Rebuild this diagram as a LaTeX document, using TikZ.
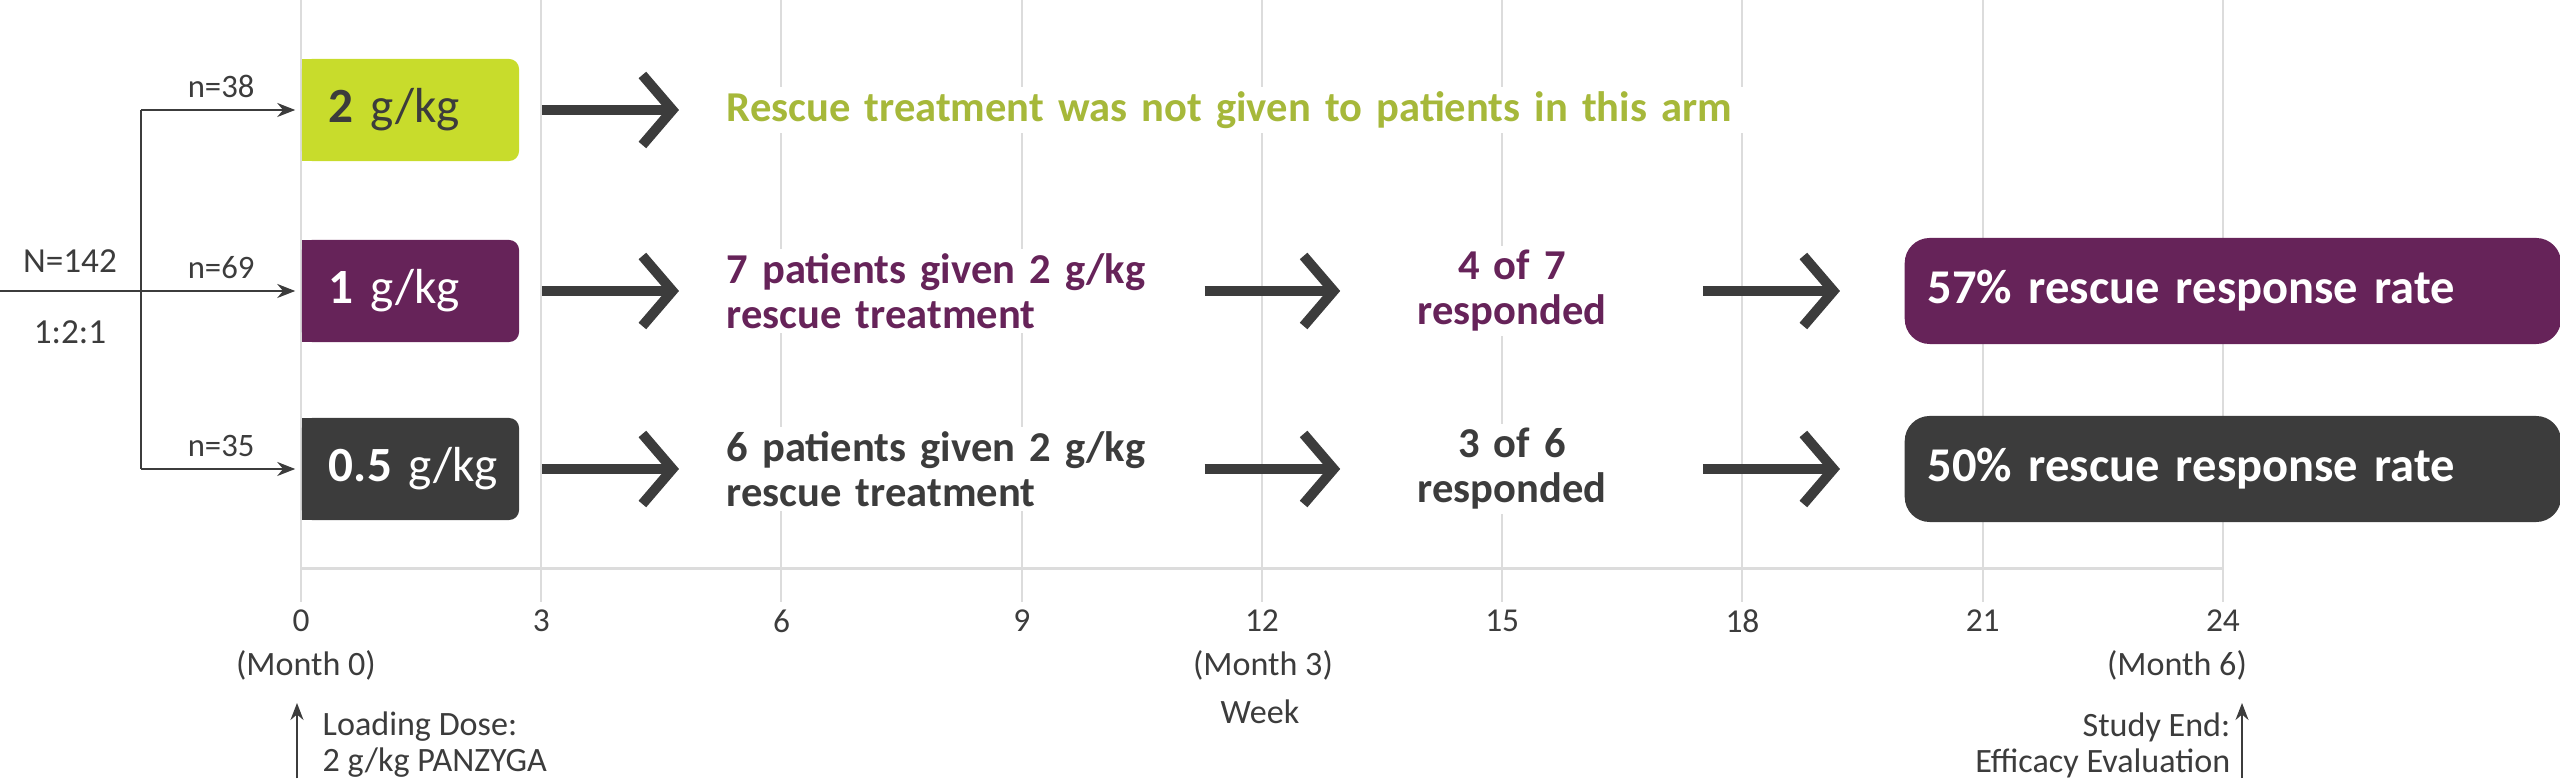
\documentclass[tikz,border=0pt]{standalone}
\usepackage{fontspec}
\setmainfont{Carlito}
\usetikzlibrary{arrows.meta,positioning}
\definecolor{armhigh}{HTML}{C8DC2C}
\definecolor{armmid}{HTML}{662359}
\definecolor{armlow}{HTML}{3C3C3C}
\definecolor{limetext}{HTML}{A6B83A}
\definecolor{gridgray}{HTML}{DCDCDC}

\begin{document}
\begin{tikzpicture}[x=0.01cm,y=-0.01cm,
    gridline/.style={draw=gridgray,line width=0.02cm},
    lbl/.style={text=armlow,font=\fontsize{9.7}{10.2}\selectfont},
    dose/.style={text width=1.63cm,inner xsep=0.27cm,minimum height=1.02cm,
      rounded corners=0.1cm,align=left,font=\fontsize{14}{16}\selectfont},
    info/.style={anchor=west,fill=white,text width=4.33cm,inner xsep=0.22cm,
      inner ysep=0.04cm,align=left,font=\bfseries\fontsize{12.1}{12.8}\selectfont},
    resp/.style={fill=white,text width=2.6cm,inner xsep=0.16cm,inner ysep=0.04cm,
      align=center,font=\bfseries\fontsize{12.1}{12.8}\selectfont},
    result/.style={anchor=west,text=white,text width=6.1cm,inner xsep=0.23cm,
      minimum height=1.06cm,rounded corners=0.25cm,align=left,
      font=\bfseries\fontsize{13.8}{16}\selectfont},
    bigarrow/.style={armlow,line width=0.1cm,
      -{Straight Barb[length=0.3cm,width=0.7cm]},shorten <=0.22cm,shorten >=0.25cm},
    thinarrow/.style={armlow,line width=0.02cm},
    uparrow/.style={thinarrow,-{Stealth[length=0.17cm,width=0.13cm]}}]
  \useasboundingbox (0,0) rectangle (2560,780);

  \foreach \w in {0,3,...,24} {
    \draw[gridline] ({301+80.08*\w},0) -- ({301+80.08*\w},602);
    \node[lbl,font=\fontsize{9.5}{10}\selectfont] (w\w) at ({301+80.08*\w},621) {\w};
  }
  \draw[gridline,line width=0.03cm] (301,569) -- (2223,569);
  \node[lbl] (m0) at (306,665) {(Month 0)};
  \node[lbl] (m3) at (1263,665) {(Month 3)};
  \node[lbl] (m6) at (2177,665) {(Month 6)};
  \node[lbl] (week) at (1260,712) {Week};

  \foreach \y/\c in {110/armhigh,291/armmid,469/armlow}
    \fill[\c] (302,{\y-51}) rectangle (420,{\y+51});
  \node[dose,fill=armhigh,text=armlow] (d1) at (410.5,110) {\textbf{2}~g/kg};
  \node[dose,fill=armmid,text=white] (d2) at (410.5,291) {\textbf{1}~g/kg};
  \node[dose,fill=armlow,text=white] (d3) at (410.5,469) {\textbf{0.5}~g/kg};

  \node[info,text=limetext,text width=11cm] (t1) at (704,110)
    {Rescue treatment was not given to patients in this arm};
  \node[info,text=armmid] (t2) at (704,291) {7 patients given 2 g/kg\\rescue treatment};
  \node[info,text=armlow] (t3) at (704,469) {6 patients given 2 g/kg\\rescue treatment};
  \node[resp,text=armmid] (r2) at (1512,291) {4 of 7\\responded};
  \node[resp,text=armlow] (r3) at (1512,469) {3 of 6\\responded};
  \node[result,fill=armmid] (s2) at (1904,291) {57\% rescue response rate};
  \node[result,fill=armlow] (s3) at (1904,469) {50\% rescue response rate};

  \path[bigarrow]
    (d1) edge (t1)
    (d2) edge (t2)
    (t2) edge (r2)
    (r2) edge[shorten <=0.44cm,shorten >=0.64cm] (s2)
    (d3) edge (t3)
    (t3) edge (r3)
    (r3) edge[shorten <=0.44cm,shorten >=0.64cm] (s3);

  \node[lbl,font=\fontsize{10}{11}\selectfont] (total) at (70,261) {N=142};
  \node[lbl,font=\fontsize{10}{11}\selectfont] (ratio) at (70,332) {1:2:1};
  \coordinate (entry) at (0,291);
  \coordinate (split) at (141,291);
  \draw[thinarrow] (entry) -- (split);
  \draw[thinarrow] (split |- d1) -- (split |- d3);
  \path[thinarrow,-{Stealth[length=0.18cm,width=0.14cm]},shorten >=0.06cm,
      every node/.style={lbl,font=\fontsize{9.3}{10}\selectfont}]
    (split |- d1) edge node[above] {n=38} (d1)
    (split) edge node[above] {n=69} (d2)
    (split |- d3) edge node[above] {n=35} (d3);

  \node[lbl,anchor=west,align=left,inner sep=0] (load) at (322,745)
    {Loading Dose:\\2 g/kg PANZYGA};
  \coordinate (loadtip) at (297,703);
  \draw[uparrow] (loadtip |- load.south) -- (loadtip);
  \node[lbl,anchor=east,align=right,inner sep=0] (study) at (2231,745)
    {Study End:\\Efficacy Evaluation};
  \coordinate (studytip) at (2242,703);
  \draw[uparrow] (studytip |- study.south) -- (studytip);
\end{tikzpicture}
\end{document}
